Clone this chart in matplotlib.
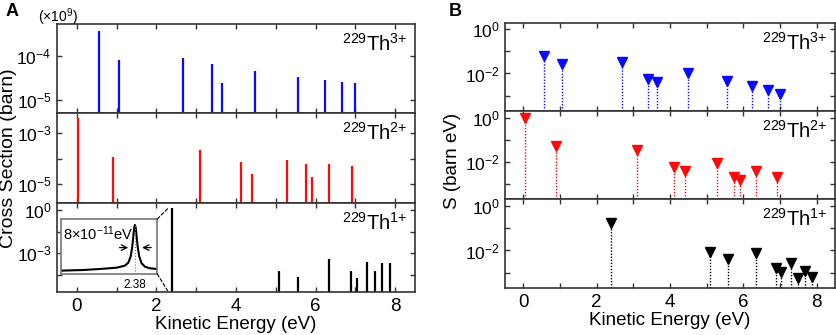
import matplotlib
matplotlib.use('Agg')
import matplotlib.pyplot as plt
from matplotlib.ticker import FixedLocator, FixedFormatter, MultipleLocator, NullFormatter
from matplotlib.patches import ConnectionPatch

plt.rcParams['font.family'] = ['Liberation Sans', 'DejaVu Sans']
plt.rcParams['mathtext.fontset'] = 'custom'
plt.rcParams['mathtext.rm'] = 'Liberation Sans'
plt.rcParams['mathtext.it'] = 'Liberation Sans:italic'
plt.rcParams['mathtext.bf'] = 'Liberation Sans:bold'
plt.rcParams['mathtext.default'] = 'regular'

# ---------------- data ----------------
energy_th3 = [0.56, 1.06, 2.68, 3.39, 3.64, 4.49, 5.55, 6.23, 6.67, 6.99]
xs_th3 = [3.76e-4, 8.1e-5, 8.9e-5, 6.6e-5, 2.4e-5, 4.6e-5, 3.3e-5, 2.8e-5, 2.6e-5, 2.4e-5]
S_th3 = [0.063, 0.026, 0.032, 0.0054, 0.0040, 0.010, 0.0048, 0.0028, 0.0017, 0.0012]

energy_th2 = [0.04, 0.90, 3.09, 4.12, 4.41, 5.29, 5.75, 5.90, 6.34, 6.91]
xs_th2 = [3.6e-3, 1.1e-4, 2.1e-4, 7.5e-5, 2.5e-5, 8.7e-5, 6.0e-5, 2.0e-5, 6.3e-5, 5.3e-5]
S_th2 = [1.0, 0.052, 0.034, 0.0058, 0.0038, 0.0087, 0.0020, 0.0015, 0.0038, 0.0021]

energy_th1 = [2.38, 5.08, 5.57, 6.35, 6.88, 7.03, 7.30, 7.50, 7.68, 7.88]
xs_th1 = [1.4, 5.9e-5, 2.2e-5, 3.8e-4, 5.9e-5, 2.0e-5, 2.5e-4, 5.9e-5, 2.1e-4, 2.0e-4]
S_th1 = [0.166, 0.0087, 0.0042, 0.0076, 0.0016, 0.00105, 0.0026, 0.00059, 0.0012, 0.00065]

# inset line shape (normalized)
inset_x = [0.0, 0.232, 0.405, 0.578, 0.664, 0.699, 0.723, 0.740, 0.754, 0.761, 0.768,
           0.775, 0.782, 0.796, 0.813, 0.837, 0.872, 0.924, 1.0]
inset_y = [0.061, 0.073, 0.091, 0.115, 0.152, 0.206, 0.315, 0.497, 0.739, 0.848, 0.891,
           0.848, 0.739, 0.497, 0.315, 0.194, 0.133, 0.103, 0.091]
inset_peak_x = 0.768

ion_labels = [r'$^{229}$Th$^{3{+}}$', r'$^{229}$Th$^{2{+}}$', r'$^{229}$Th$^{1{+}}$']
colors = ['#0a0aff', '#ff0a0a', '#000000']

# ---------------- layout ----------------
W, H = 837, 335
fig = plt.figure(figsize=(W / 100, H / 100), dpi=100)


def add_ax(l, t, r, b):
    return fig.add_axes([l / W, 1 - b / H, (r - l) / W, (b - t) / H])


def fx(x):
    return x / W


def fy(y):
    return 1 - y / H


FRAME = '#333333'
TICK_FS = 12.5
LABEL_FS = 13.5


def style(ax, ylim, major, labels, minor, show_x):
    ax.set_yscale('log')
    ax.set_xlim(-0.5, 8.5)
    ax.set_ylim(*ylim)
    ax.yaxis.set_major_locator(FixedLocator(major))
    ax.yaxis.set_major_formatter(FixedFormatter(labels))
    ax.yaxis.set_minor_locator(FixedLocator(minor))
    ax.yaxis.set_minor_formatter(NullFormatter())
    ax.xaxis.set_major_locator(MultipleLocator(2))
    ax.xaxis.set_minor_locator(MultipleLocator(1))
    ax.tick_params(which='both', direction='in', top=True, right=True,
                   length=3.5, width=1, color=FRAME, labelsize=TICK_FS, pad=4)
    ax.tick_params(axis='x', labelsize=13.5)
    if not show_x:
        ax.tick_params(axis='x', labelbottom=False)
    for s in ax.spines.values():
        s.set_color(FRAME)
        s.set_linewidth(1.2)


def lab(p):
    return r'$10^{%d}$' % p


# ---- panel A ----
axA3 = add_ax(57, 24, 415, 113)
axA2 = add_ax(57, 113, 415, 203)
axA1 = add_ax(57, 203, 415, 292)

style(axA3, (10 ** -5.3, 10 ** -3.27), [1e-4, 1e-5], [lab(-4), lab(-5)], [], False)
style(axA2, (10 ** -5.72, 10 ** -2.24), [1e-3, 1e-5], [lab(-3), lab(-5)], [1e-4], False)
style(axA1, (10 ** -5.69, 10 ** 0.49), [1e0, 1e-3], [lab(0), lab(-3)],
      [10 ** -1.5, 10 ** -4.5], True)

for ax, e, v, c, t in [(axA3, energy_th3, xs_th3, colors[0], ion_labels[0]),
                       (axA2, energy_th2, xs_th2, colors[1], ion_labels[1]),
                       (axA1, energy_th1, xs_th1, colors[2], ion_labels[2])]:
    lo = ax.get_ylim()[0]
    ax.vlines(e, lo, v, color=c, lw=1.6)
    ax.text(0.978, 0.9, t, transform=ax.transAxes, ha='right', va='top', fontsize=14.5)

axA1.set_xlabel('Kinetic Energy (eV)', fontsize=LABEL_FS, labelpad=1)
fig.text(fx(9), fy(158), 'Cross Section (barn)', rotation=90, ha='center', va='center',
         fontsize=14)
fig.text(fx(38), fy(17), r'($\times$10$^{9}$)', ha='left', va='center', fontsize=10)
fig.text(fx(12), fy(12), 'A', ha='center', va='center', fontsize=13, fontweight='bold')

# inset
axin = add_ax(61, 219, 157.3, 274)
axin.plot(inset_x, inset_y, color='black', lw=1.5)
axin.set_xlim(0, 1)
axin.set_ylim(0, 1)
axin.set_xticks([])
axin.set_yticks([])
for s in axin.spines.values():
    s.set_color('#777777')
    s.set_linewidth(1.2)
axin.plot([inset_peak_x, inset_peak_x], [0, 0.89], color='#777777', lw=0.8, ls=':')
axin.annotate('', xy=(0.727, 0.48), xytext=(0.578, 0.48),
              arrowprops=dict(arrowstyle='->', lw=0.9, color='black'))
axin.annotate('', xy=(0.813, 0.48), xytext=(0.966, 0.48),
              arrowprops=dict(arrowstyle='->', lw=0.9, color='black'))
axin.text(0.02, 0.74, r'8$\times$10$^{-11}$eV', transform=axin.transAxes, ha='left',
          va='center', fontsize=10.5)
axin.text(inset_peak_x, -0.1, '2.38', transform=axin.transAxes, ha='center', va='top',
          fontsize=8.5)

for ya, yb in [(1, 1.25), (0, 10 ** -5.6)]:
    con = ConnectionPatch(xyA=(1, ya), coordsA=axin.transAxes, xyB=(2.28, yb),
                          coordsB=axA1.transData, color='black', lw=0.8, ls=(0, (3, 2)))
    fig.add_artist(con)

# ---- panel B ----
axB3 = add_ax(505, 22.7, 835, 111)
axB2 = add_ax(505, 111, 835, 199.3)
axB1 = add_ax(505, 199.3, 835, 288.3)
ylimB = (10 ** -3.7, 10 ** 0.3)
for ax, showx in [(axB3, False), (axB2, False), (axB1, True)]:
    style(ax, ylimB, [1e0, 1e-2], [lab(0), lab(-2)], [1e-1, 1e-3], showx)

for ax, e, v, c, t in [(axB3, energy_th3, S_th3, colors[0], ion_labels[0]),
                       (axB2, energy_th2, S_th2, colors[1], ion_labels[1]),
                       (axB1, energy_th1, S_th1, colors[2], ion_labels[2])]:
    lo = ax.get_ylim()[0]
    ax.vlines(e, lo, v, color=c, lw=1.0, linestyles=(0, (1, 1.2)))
    ax.plot(e, v, ls='none', marker='v', ms=7.5, color=c, mec=c)
    ax.text(0.978, 0.9, t, transform=ax.transAxes, ha='right', va='top', fontsize=14.5)

axB1.set_xlabel('Kinetic Energy (eV)', fontsize=LABEL_FS, labelpad=1)
fig.text(fx(453), fy(161), 'S (barn eV)', rotation=90, ha='center', va='center',
         fontsize=LABEL_FS)
fig.text(fx(455), fy(12), 'B', ha='center', va='center', fontsize=13, fontweight='bold')

fig.savefig('out.png', dpi=100)
